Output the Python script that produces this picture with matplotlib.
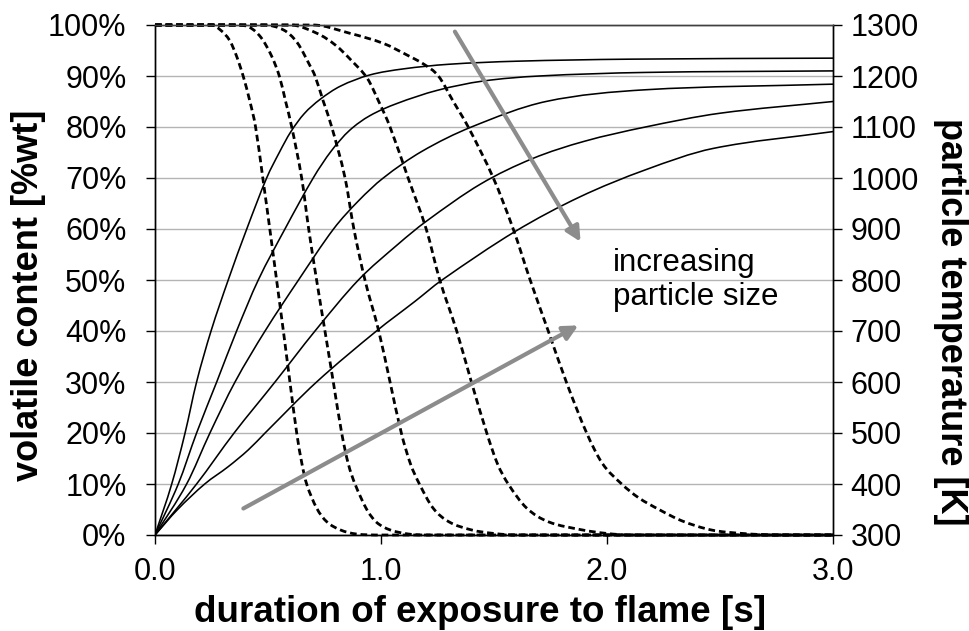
import numpy as np
import matplotlib
matplotlib.use("Agg")
import matplotlib.pyplot as plt
from matplotlib.path import Path
from matplotlib.patches import PathPatch
from matplotlib.ticker import FuncFormatter, MultipleLocator

plt.rcParams['font.family'] = ['Liberation Sans', 'DejaVu Sans']

# Volatile content [%wt] vs. exposure time [s] (dashed), smallest to largest particle
vol_t = [
    [0, 0.25, 0.29, 0.33, 0.36, 0.39, 0.42, 0.445, 0.477, 0.508, 0.538, 0.568, 0.597,
     0.627, 0.65, 0.671, 0.715, 0.76, 0.82, 0.89, 1.0, 3.0],
    [0, 0.36, 0.42, 0.47, 0.515, 0.55, 0.578, 0.605, 0.649, 0.68, 0.715, 0.752, 0.789,
     0.826, 0.855, 0.885, 0.937, 0.98, 1.04, 1.12, 1.2, 3.0],
    [0, 0.48, 0.57, 0.63, 0.686, 0.708, 0.745, 0.782, 0.841, 0.88, 0.929, 0.99, 1.04,
     1.09, 1.13, 1.17, 1.23, 1.30, 1.40, 1.5, 1.6, 3.0],
    [0, 0.6, 0.72, 0.8, 0.87, 0.94, 0.99, 1.04, 1.12, 1.20, 1.26, 1.335, 1.40, 1.468,
     1.515, 1.563, 1.644, 1.74, 1.89, 2.0, 2.1, 3.0],
    [0, 0.7, 0.86, 1.01, 1.12, 1.19, 1.254, 1.32, 1.386, 1.497, 1.585, 1.66, 1.74, 1.82,
     1.91, 1.98, 2.065, 2.14, 2.23, 2.33, 2.46, 2.6, 2.75, 3.0],
]
vol_v = [
    [100, 100, 99, 97, 94, 90, 85, 80, 70, 60, 50, 40, 30, 20, 14, 10, 5.3, 2.6, 1, 0.2, 0, 0],
    [100, 100, 99.5, 97.5, 94, 90, 85, 80, 70, 60, 50, 40, 30, 20, 14, 10, 5, 2.5, 1, 0.2, 0, 0],
    [100, 100, 99, 96.5, 92, 90, 85, 80, 70, 60, 50, 40, 30, 20, 14, 10, 5.3, 2.6, 1, 0.3, 0, 0],
    [100, 100, 98.3, 96, 93, 89.5, 85, 80, 70, 60, 50, 40, 30, 20, 14, 10, 5.3, 2.6, 1, 0.3, 0, 0],
    [100, 100, 98.4, 96.4, 94, 92.3, 90, 85, 80, 70, 60, 50, 40, 30, 20, 14, 10, 7.3, 5, 2.8, 1,
     0.3, 0, 0],
]

# Particle temperature [K] vs. exposure time [s] (solid), smallest to largest particle
temp_t = [
    [0, 0.074, 0.133, 0.184, 0.248, 0.324, 0.406, 0.494, 0.55, 0.60, 0.66, 0.73, 0.82,
     0.95, 1.1, 1.3, 1.6, 2.1, 3.0],
    [0, 0.103, 0.184, 0.273, 0.361, 0.457, 0.575, 0.70, 0.78, 0.86, 0.95, 1.07, 1.25, 1.45,
     1.7, 2.17, 3.0],
    [0, 0.14, 0.243, 0.354, 0.487, 0.635, 0.79, 0.90, 1.01, 1.18, 1.40, 1.73, 2.17, 3.0],
    [0, 0.184, 0.35, 0.531, 0.708, 0.90, 1.075, 1.2, 1.44, 1.67, 1.9, 2.17, 2.5, 3.0],
    [0, 0.1, 0.22, 0.324, 0.413, 0.487, 0.715, 0.98, 1.15, 1.27, 1.593, 1.88, 2.17, 2.47, 3.0],
]
temp_k = [
    [300, 400, 500, 600, 700, 800, 900, 1000, 1050, 1090, 1126, 1154, 1180, 1202, 1214, 1223,
     1229, 1233, 1235],
    [300, 400, 500, 600, 700, 800, 900, 1000, 1053, 1093, 1122, 1146, 1172, 1190, 1200, 1207,
     1210],
    [300, 400, 500, 600, 700, 800, 900, 955, 1000, 1052, 1100, 1150, 1173, 1184],
    [300, 400, 500, 600, 700, 800, 870, 915, 988, 1038, 1072, 1100, 1127, 1150],
    [300, 350, 400, 434, 467, 500, 600, 700, 758, 800, 895, 963, 1016, 1058, 1091],
]

# Guide arrows (time [s], volatile %) and their caption
arrow_down = [(1.327, 98.7), (1.883, 57.5)]
arrow_up = [(0.391, 5.2), (1.873, 41.1)]
caption = "increasing\nparticle size"


def smooth_path(x, y):
    """Cubic Bezier path through the points (central-difference tangents,
    limited so each segment stays monotone)."""
    x = np.asarray(x, float)
    y = np.asarray(y, float)
    h = np.diff(x)
    d = np.diff(y) / h
    m = np.zeros_like(y)
    m[0], m[-1] = d[0], d[-1]
    for i in range(1, len(x) - 1):
        if d[i - 1] * d[i] > 0:
            c = (y[i + 1] - y[i - 1]) / (x[i + 1] - x[i - 1])
            lim = 3 * min(abs(d[i - 1]), abs(d[i]))
            m[i] = np.sign(c) * min(abs(c), lim)
    verts = [(x[0], y[0])]
    codes = [Path.MOVETO]
    for i in range(len(x) - 1):
        verts += [(x[i] + h[i] / 3, y[i] + m[i] * h[i] / 3),
                  (x[i + 1] - h[i] / 3, y[i + 1] - m[i + 1] * h[i] / 3),
                  (x[i + 1], y[i + 1])]
        codes += [Path.CURVE4] * 3
    return Path(verts, codes)


fig = plt.figure(figsize=(9.69, 6.31), dpi=100)
ax = fig.add_axes([155 / 969, 1 - 535 / 631, 678 / 969, 510 / 631])
ax2 = ax.twinx()

for t, v in zip(vol_t, vol_v):
    ax.add_patch(PathPatch(smooth_path(t, v), fill=False, edgecolor='black', lw=2.0,
                           linestyle=(0, (2.4, 1.4)), clip_on=False, zorder=3))

for t, k in zip(temp_t, temp_k):
    ax2.add_patch(PathPatch(smooth_path(t, k), fill=False, edgecolor='black', lw=1.15,
                            zorder=3))

ax.set_xlim(0, 3)
ax.set_ylim(0, 100)
ax2.set_ylim(300, 1300)

ax.xaxis.set_major_locator(MultipleLocator(1.0))
ax.xaxis.set_major_formatter(FuncFormatter(lambda x, p: f"{x:.1f}"))
ax.yaxis.set_major_locator(MultipleLocator(10))
ax.yaxis.set_major_formatter(FuncFormatter(lambda y, p: f"{y:.0f}%"))
ax2.yaxis.set_major_locator(MultipleLocator(100))

ax.grid(axis='y', color='#b4b4b4', lw=1.0)
ax.set_axisbelow(True)

for a in (ax, ax2):
    a.spines['top'].set_color('#404040')
    for side in ('left', 'right', 'bottom'):
        a.spines[side].set_color('black')
    for s in a.spines.values():
        s.set_linewidth(1.0)

ax.tick_params(axis='y', direction='out', length=6.5, width=1.0, labelsize=22, pad=14)
ax.tick_params(axis='x', direction='out', length=6.5, width=1.0, labelsize=22, pad=9)
ax2.tick_params(axis='y', direction='out', length=6.5, width=1.0, labelsize=22, pad=6)

ax.set_xlabel("duration of exposure to flame [s]", fontsize=26.5, fontweight='bold',
              va='center')
ax.xaxis.set_label_coords(0.479, -0.151)
ax.set_ylabel("volatile content [%wt]", fontsize=26, fontweight='bold', va='center')
ax.yaxis.set_label_coords(-0.187, 0.47)
ax2.set_ylabel("particle temperature [K]", fontsize=26, fontweight='bold', rotation=270,
               va='center')
ax2.yaxis.set_label_coords(1.173, 0.418)

arrow_style = dict(arrowstyle='-|>', color='#8c8c8c', lw=3.0, mutation_scale=22,
                   shrinkA=0, shrinkB=0)
for start, end in (arrow_down, arrow_up):
    ax2.annotate("", xy=end, xytext=start, xycoords=ax.transData, textcoords=ax.transData,
                 arrowprops=arrow_style, zorder=5)

ax2.text(2.025, 50.0, caption, transform=ax.transData, fontsize=22.5, ha='left', va='center',
         linespacing=1.15, zorder=6)

fig.savefig("out.png", dpi=100)
